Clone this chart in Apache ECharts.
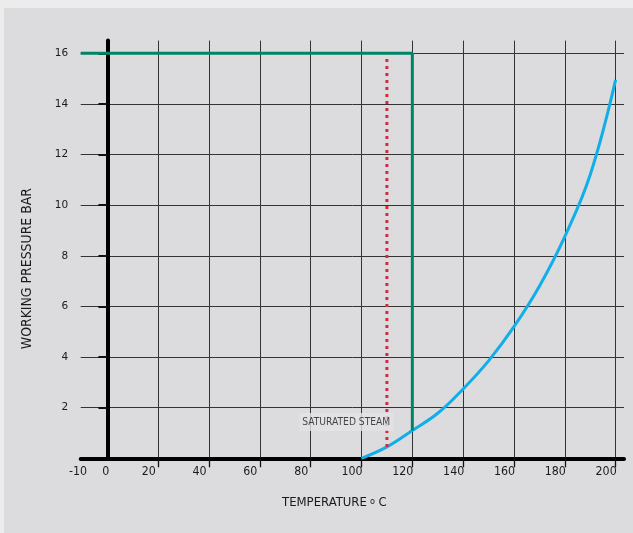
<!DOCTYPE html>
<html>
<head>
<meta charset="utf-8">
<script src="https://cdn.jsdelivr.net/npm/echarts@6/dist/echarts.min.js"></script>
<style>
html,body{margin:0;padding:0;background:#ececec;}
#c{width:633px;height:533px;}
</style>
</head>
<body>
<div id="c"></div>
<script>
// ---- data ----
var xTickValues = [20, 40, 60, 80, 100, 120, 140, 160, 180, 200];
var xLabelValues = [-10, 0, 20, 40, 60, 80, 100, 120, 140, 160, 180, 200];
var yTickValues = [2, 4, 6, 8, 10, 12, 14, 16];
var steamTemp = [100, 110, 120, 130, 140, 150, 160, 170, 180, 190, 200];
var steamPressure = [0, 0.45, 1.1, 1.78, 2.74, 3.85, 5.2, 6.8, 8.76, 11.2, 14.95];
var greenTemp = [-10.5, 120, 120];
var greenPressure = [16, 16, 1.1];
var redTemp = [110, 110];
var redPressure = [0.45, 15.85];
var labelPoint = [94, 1.43];
var labelText = 'SATURATED STEAM';
var xNameMain = 'TEMPERATURE';
var xNameSup = 'o';
var xNameUnit = 'C';
var yName = 'WORKING PRESSURE BAR';

function zip(a, b) { return a.map(function (v, i) { return [v, b[i]]; }); }

var chart = echarts.init(document.getElementById('c'), null, {renderer: 'canvas'});
var narrow = '"Liberation Sans Narrow", "DejaVu Sans Condensed", sans-serif';

var option = {
  backgroundColor: '#ececec',
  animation: false,
  graphic: [
    {type: 'rect', left: 4, top: 8, z: -10, shape: {width: 629, height: 525}, style: {fill: '#dcdcde'}},
    {type: 'text', left: 282, top: 496, z: 10,
      style: {text: xNameMain, font: '13px ' + narrow, fill: '#1a1a1a'}},
    {type: 'text', left: 370, top: 497, z: 10,
      style: {text: xNameSup, font: '9px ' + narrow, fill: '#1a1a1a'}},
    {type: 'text', left: 378.5, top: 496, z: 10,
      style: {text: xNameUnit, font: '13px ' + narrow, fill: '#1a1a1a'}},
    {type: 'text', left: 20, top: 188, z: 10, rotation: Math.PI / 2,
      style: {text: yName, font: '13.9px ' + narrow, fill: '#1a1a1a'}}
  ],
  grid: {left: 80.7, right: 9, top: 40.6, bottom: 74.7, containLabel: false},
  xAxis: {
    type: 'value', min: -10.5, max: 203.3,
    axisLine: {show: true, onZero: true, lineStyle: {color: '#000', width: 4}},
    axisTick: {show: true, customValues: xTickValues, length: 9, lineStyle: {color: '#111', width: 1.3}},
    axisLabel: {
      customValues: xLabelValues, margin: 8, color: '#1a1a1a',
      fontFamily: narrow, fontSize: 12.3,
      formatter: function (v) {
        if (v === 0) return '{z|0}';
        if (v === -10) return '{m|-10}';
        return '{n|' + v + '}';
      },
      rich: {
        n: {fontFamily: narrow, fontSize: 12.3, color: '#1a1a1a', padding: [0, 19, 0, 0]},
        z: {fontFamily: narrow, fontSize: 12.3, color: '#1a1a1a', padding: [0, 3, 0, 0]},
        m: {fontFamily: narrow, fontSize: 12.3, color: '#1a1a1a', padding: [0, 8, 0, 0]}
      }
    },
    splitLine: {show: true, lineStyle: {color: '#333', width: 1}}
  },
  yAxis: {
    type: 'value', min: 0, max: 16.5,
    axisLine: {show: true, onZero: true, lineStyle: {color: '#000', width: 4}},
    axisTick: {show: true, customValues: yTickValues, length: 9, lineStyle: {color: '#111', width: 2}},
    axisLabel: {customValues: yTickValues, margin: 12.5, color: '#1a1a1a', fontFamily: '"DejaVu Sans", sans-serif', fontSize: 10.5},
    splitLine: {show: true, lineStyle: {color: '#333', width: 1}}
  },
  series: [
    {type: 'line', data: zip(steamTemp, steamPressure), smooth: 0.4, showSymbol: false, symbol: 'none',
      lineStyle: {color: '#12aeea', width: 3}, z: 3},
    {type: 'line', data: zip(redTemp, redPressure), showSymbol: false, symbol: 'none',
      lineStyle: {color: '#d42a3c', width: 3, type: [3, 4]}, z: 4},
    {type: 'line', data: zip(greenTemp, greenPressure), showSymbol: false, symbol: 'none',
      lineStyle: {color: '#008466', width: 3}, z: 5},
    {type: 'scatter', data: [labelPoint], symbolSize: 1, itemStyle: {color: 'transparent'}, z: 6,
      label: {show: true, position: 'inside', formatter: labelText, fontFamily: narrow, fontSize: 10.2,
        color: '#1a1a1a', backgroundColor: '#e4e4e6', padding: [4, 3, 4, 3]}}
  ]
};
chart.setOption(option);
</script>
</body>
</html>
